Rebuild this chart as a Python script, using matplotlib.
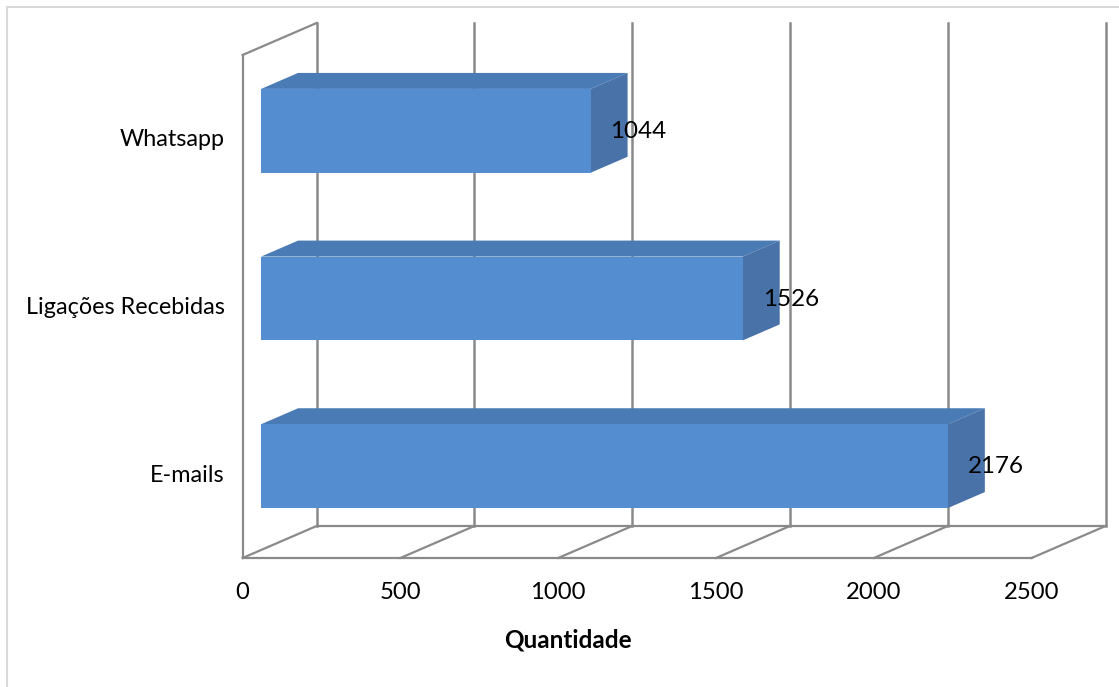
import matplotlib
matplotlib.use('Agg')
import matplotlib.pyplot as plt
from matplotlib.patches import Rectangle

categories = ['E-mails', 'Ligações Recebidas', 'Whatsapp']
values = [2176, 1526, 1044]
x_ticks = [0, 500, 1000, 1500, 2000, 2500]

W, H = 1119, 687
plt.rcParams['font.family'] = ['Lato', 'DejaVu Sans']

fig = plt.figure(figsize=(W / 100, H / 100), dpi=100)
# axes is the front plane of the 3d box
ax = fig.add_axes([242.6 / W, 1 - 558 / H, (1031.6 - 242.6) / W, 503 / H])
ax.set_xlim(0, 2500)
ax.set_ylim(0, 3)
ax.axis('off')

# how far the back plane is shifted from the front one, in data units
DEPTH_X = 74 / (789 / 2500)
DEPTH_Y = 32 / (503 / 3)
GRID = '#8a8a8a'
FRONT = '#558ed0'
TOP = '#4a7bb5'
SIDE = '#4872a8'


def proj(x, y, depth):
    return x + depth * DEPTH_X, y + depth * DEPTH_Y


def line(p1, p2, lw=1.6):
    ax.plot([p1[0], p2[0]], [p1[1], p2[1]], color=GRID, lw=lw, clip_on=False,
            solid_capstyle='projecting', zorder=1)


def face(points, color, zorder=3):
    xs = [p[0] for p in points]
    ys = [p[1] for p in points]
    ax.fill(xs, ys, color=color, lw=0, clip_on=False, zorder=zorder)


# walls and floor
for t in x_ticks:
    line(proj(t, 0, 0), proj(t, 0, 1))
    line(proj(t, 0, 1), proj(t, 3, 1), lw=1.8)
line(proj(0, 0, 0), proj(2500, 0, 0))
line(proj(0, 0, 1), proj(2500, 0, 1))
line(proj(0, 0, 0), proj(0, 3, 0))
line(proj(0, 3, 0), proj(0, 3, 1))

# bars
bar_h = 0.5
for i, v in enumerate(values):
    y0 = i + 0.5 - bar_h / 2
    y1 = i + 0.5 + bar_h / 2
    face([proj(0, y1, 0.25), proj(v, y1, 0.25), proj(v, y1, 0.75), proj(0, y1, 0.75)], TOP)
    face([proj(v, y0, 0.25), proj(v, y0, 0.75), proj(v, y1, 0.75), proj(v, y1, 0.25)], SIDE)
    face([proj(0, y0, 0.25), proj(v, y0, 0.25), proj(v, y1, 0.25), proj(0, y1, 0.25)], FRONT, 4)
    cx, cy = proj(v, i + 0.5, 0.25)
    ax.annotate(str(v), (cx, cy), xytext=(34.5, -0.5), textcoords='offset points',
                ha='center', va='center', fontsize=17.4, color='black', zorder=6)

# labels
for i, c in enumerate(categories):
    ax.annotate(c, (0, i + 0.5), xytext=(-13, -0.7), textcoords='offset points',
                ha='right', va='center', fontsize=16.8, color='black')
for t in x_ticks:
    ax.annotate(str(t), (t, 0), xytext=(0, -25), textcoords='offset points',
                ha='center', va='center', fontsize=17.2, color='black')
ax.annotate('Quantidade', (1030, 0), xytext=(0, -59), textcoords='offset points',
            ha='center', va='center', fontsize=17.5, fontweight='bold', color='black')

# chart area border
fig.add_artist(Rectangle((7 / W, -0.05), 1.1, 1 - 7 / H + 0.05, transform=fig.transFigure,
                         fill=False, ec='#d9d9d9', lw=1.5))

fig.savefig('out.png', dpi=100)
